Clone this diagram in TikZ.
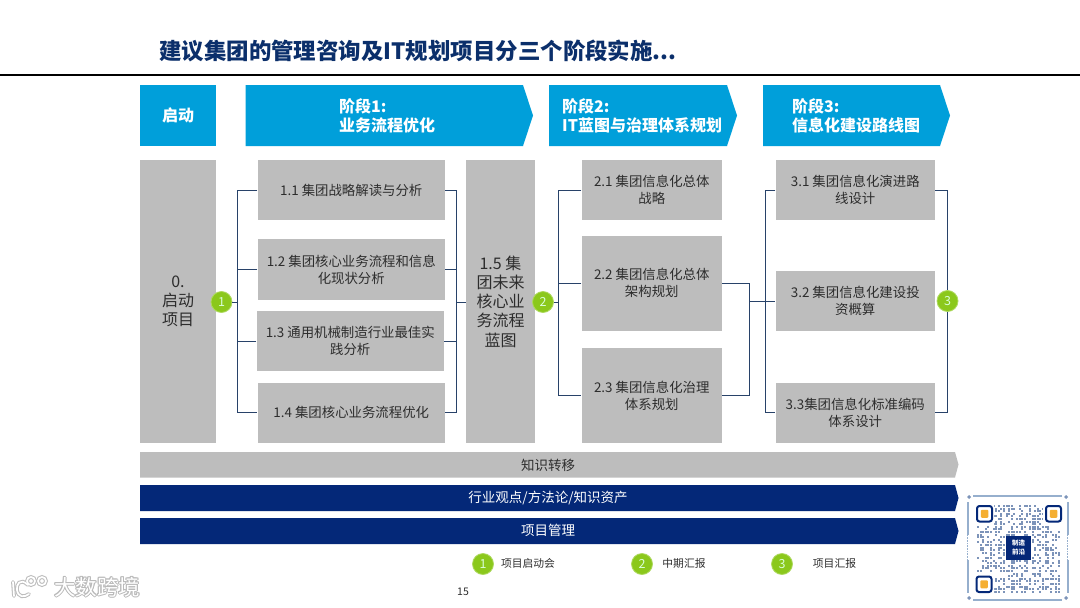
\documentclass[tikz,border=0pt]{standalone}
\usepackage{fontspec}
\setmainfont{Noto Sans CJK SC}
\usetikzlibrary{calc}
\definecolor{hblue}{RGB}{0,159,218}
\definecolor{bgray}{RGB}{189,189,189}
\definecolor{navy}{RGB}{4,40,120}
\definecolor{titlec}{RGB}{11,47,107}
\definecolor{linec}{RGB}{40,66,105}
\definecolor{greenc}{RGB}{139,200,28}
\definecolor{txt}{RGB}{45,45,45}
\definecolor{qrc}{RGB}{125,148,185}
\definecolor{qrf}{RGB}{150,175,205}
\definecolor{orangec}{RGB}{245,175,50}
\tikzset{
  box/.style={fill=bgray,text=txt,inner sep=0pt,align=center,font=\fontsize{13.4}{17}\selectfont},
  bigbox/.style={box,font=\fontsize{16}{19.2}\selectfont},
  link/.style={draw=linec,line width=0.9pt},
  head/.style={fill=hblue},
  headtext/.style={text=white,inner sep=0pt,align=left,font=\fontsize{16}{18.6}\selectfont\bfseries},
  bartext/.style={inner sep=0pt,font=\fontsize{13.5}{16}\selectfont},
  legtext/.style={inner sep=0pt,text=txt,font=\fontsize{10.8}{13}\selectfont},
  badge/.style={circle,fill=greenc,draw=greenc!70!white,line width=0.8pt,minimum size=21pt,inner sep=0pt,text=green!15!white,font=\fontsize{12.5}{14}\selectfont},
  wmtext/.style={inner sep=0pt,font=\fontsize{21.5}{24}\selectfont},
}
\newcommand{\boxat}[7]{%
  \pgfmathsetmacro\bxw{#5-#3}\pgfmathsetmacro\bxh{#6-#4}%
  \pgfmathsetmacro\bxx{(#3+#5)/2}\pgfmathsetmacro\bxy{(#4+#6)/2}%
  \node[#1,minimum width=\bxw pt,minimum height=\bxh pt] (#2) at (\bxx,\bxy) {#7};}
\begin{document}
\begin{tikzpicture}[x=1pt,y=-1pt]
\useasboundingbox (0,0) rectangle (1080,608);
\fill[white] (0,0) rectangle (1080,608);
% title
\node[anchor=west,inner sep=0pt,text=titlec,font=\fontsize{22.45}{26}\selectfont\bfseries] (title) at (159,51) {建议集团的管理咨询及IT规划项目分三个阶段实施...};
\coordinate (ruleL) at (0,75); \coordinate (ruleR) at (1080,75);
\draw[black,line width=2pt] (ruleL) -- (ruleR);
% headers
\fill[head] (140,85) rectangle (216,146);
\node[headtext] (h0) at (178,115.5) {启动};
\fill[head] (245.5,85) -- (523,85) -- (533,115.5) -- (523,146) -- (245.5,146) -- cycle;
\node[headtext,anchor=west] (h1) at (339,116) {阶段1:\\业务流程优化};
\fill[head] (549,85) -- (727,85) -- (737,115.5) -- (727,146) -- (549,146) -- cycle;
\node[headtext,anchor=west] (h2) at (562,116) {阶段2:\\IT蓝图与治理体系规划};
\fill[head] (763,85) -- (940,85) -- (950,115.5) -- (940,146) -- (763,146) -- cycle;
\node[headtext,anchor=west] (h3) at (792,116) {阶段3:\\信息化建设路线图};
% boxes
\boxat{bigbox}{b0}{140}{160}{216}{443}{0.\\启动\\项目}
\boxat{box}{b11}{257.5}{160}{445}{220}{1.1 集团战略解读与分析}
\boxat{box}{b12}{257.5}{239}{445}{300}{1.2 集团核心业务流程和信息\\化现状分析}
\boxat{box}{b13}{256.5}{311}{444}{371}{1.3 通用机械制造行业最佳实\\践分析}
\boxat{box}{b14}{257.5}{382.5}{445}{443}{1.4 集团核心业务流程优化}
\boxat{bigbox}{b15}{466}{160}{535}{443}{1.5 集\\团未来\\核心业\\务流程\\蓝图}
\boxat{box}{b21}{581.5}{160}{722}{220}{2.1 集团信息化总体\\战略}
\boxat{box}{b22}{581.5}{235.5}{722}{331}{2.2 集团信息化总体\\架构规划}
\boxat{box}{b23}{581.5}{348}{722}{443}{2.3 集团信息化治理\\体系规划}
\boxat{box}{b31}{775.5}{160}{935}{220}{3.1 集团信息化演进路\\线设计}
\boxat{box}{b32}{775.5}{271}{935}{331}{3.2 集团信息化建设投\\资概算}
\boxat{box}{b33}{775.5}{382.5}{935}{443}{3.3集团信息化标准编码\\体系设计}
% badges
\coordinate (busA) at (237,302);
\coordinate (busB) at (456,302);
\coordinate (busC) at (558,302);
\coordinate (busD) at (749,301);
\coordinate (busE) at (765,301);
\coordinate (busF) at (947.5,301);
\node[badge] (c1) at (221.5,302) {1};
\node[badge] (c2) at (543,302) {2};
\node[badge] (c3) at (947.5,301) {3};
% connectors
\draw[link] (c1) -- (busA);
\draw[link] (b11.west) -- (b11.west -| busA) -- (b14.west -| busA) -- (b14.west);
\draw[link] (b12.west) -- (b12.west -| busA);
\draw[link] (b13.west) -- (b13.west -| busA);
\draw[link] (b11.east) -- (b11.east -| busB) -- (b14.east -| busB) -- (b14.east);
\draw[link] (b12.east) -- (b12.east -| busB);
\draw[link] (b13.east) -- (b13.east -| busB);
\draw[link] (busB) -- (busB -| b15.west);
\draw[link] (c2) -- (busC);
\draw[link] (b21.west) -- (b21.west -| busC) -- (b23.west -| busC) -- (b23.west);
\draw[link] (b22.west) -- (b22.west -| busC);
\draw[link] (b22.east) -- (b22.east -| busD) -- (b23.east -| busD) -- (b23.east);
\draw[link] (busD) -- (b32.west);
\draw[link] (b31.west) -- (b31.west -| busE) -- (b33.west -| busE) -- (b33.west);
\draw[link] (b31.east) -- (b31.east -| busF) -- (c3);
\draw[link] (c3) -- (b33.east -| busF) -- (b33.east);
% bars
\fill[bgray] (140,452) -- (955,452) -- (958.5,464.5) -- (955,477.5) -- (140,477.5) -- cycle;
\node[bartext,text=txt] (k1) at (548,465) {知识转移};
\fill[navy] (140,485) -- (955,485) -- (958.5,498) -- (955,511) -- (140,511) -- cycle;
\node[bartext,text=white] (k2) at (548,497.5) {行业观点/方法论/知识资产};
\fill[navy] (140,518) -- (955,518) -- (958.5,531) -- (955,544) -- (140,544) -- cycle;
\node[bartext,text=white] (k3) at (548,530) {项目管理};
% legend
\node[badge] (l1) at (483,564) {1};
\node[legtext] (lt1) at (528,563) {项目启动会};
\node[badge] (l2) at (642,564) {2};
\node[legtext] (lt2) at (684,563) {中期汇报};
\node[badge] (l3) at (782,564) {3};
\node[legtext] (lt3) at (834.5,563) {项目汇报};
\node[inner sep=0pt,text=txt,font=\fontsize{10.5}{12}\selectfont] (page) at (463,592) {15};
% watermark logo
\foreach \lw/\col in {3.8/black!26,1.7/white}{
  \draw[line width=\lw pt,\col,line cap=round] (13,582) -- (14,596);
  \draw[line width=\lw pt,\col,line cap=round] (28,585) .. controls (20,577) and (16,585) .. (17,590) .. controls (18,597) and (24,598) .. (29,594);
  \draw[line width=\lw pt,\col] (31,581) circle (4);
  \draw[line width=\lw pt,\col] (42,581) circle (4);
}
\foreach \dx/\dy [count=\n] in {-1/0,1/0,0/-1,0/1,0.7/0.7,-0.7/-0.7,0.7/-0.7,-0.7/0.7}{
  \node[wmtext,text=black!27] (wm\n) at (97+\dx,587+\dy) {大数跨境};
}
\node[wmtext,text=white] (wm) at (97,587) {大数跨境};
% QR code
\draw[qrf,line width=2pt] (973,495.5) -- (1062,495.5);
\draw[qrf,line width=2pt] (973,599.5) -- (1062,599.5);
\draw[qrf,line width=2pt] (967.5,502) -- (967.5,535) (967.5,560) -- (967.5,593);
\draw[qrf,line width=2pt] (1067.5,502) -- (1067.5,535) (1067.5,560) -- (1067.5,593);
\draw[qrf,line width=0.6pt,densely dotted] (967.5,535) -- (967.5,560) (1067.5,535) -- (1067.5,560);
\foreach \qx/\qy in {969/497,1066/497,969/598,1066/598}{
  \fill[qrc] (\qx-2,\qy) -- (\qx,\qy-2) -- (\qx+2,\qy) -- (\qx,\qy+2) -- cycle;
}
\pgfmathsetseed{11}
\foreach \i in {0,...,31}{
  \foreach \j in {0,...,33}{
    \pgfmathparse{rnd<0.45?1:0}
    \ifnum\pgfmathresult=1
      \fill[qrc] ({977+\i*2.6},{505+\j*2.6}) rectangle +(1.9,1.9);
    \fi
  }
}
\fill[white] (974,503) rectangle (994,525) (1043,503) rectangle (1065,525) (974,573) rectangle (994,595);
\foreach \fx/\fy in {977/506,1046/506,976.5/576.5}{
  \draw[navy,line width=2pt,rounded corners=2.5pt] (\fx,\fy) rectangle ++(15,15.5);
  \fill[orangec,rounded corners=1pt] (\fx+3.8,\fy+3.8) rectangle ++(7.5,8);
}
\boxat{inner sep=0pt,fill=navy,text=white,align=center,font=\fontsize{6.5}{9}\selectfont\bfseries}{qrlogo}{1006}{536}{1031}{560}{制造\\前沿}
\end{tikzpicture}
\end{document}
